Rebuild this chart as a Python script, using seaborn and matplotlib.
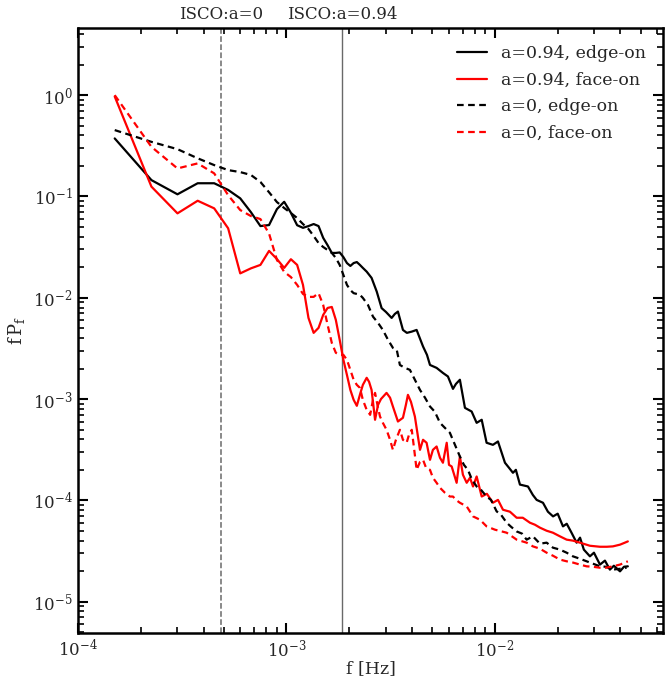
import numpy as np
import pandas as pd
import matplotlib
matplotlib.use("Agg")
import matplotlib.pyplot as plt
import matplotlib.ticker as ticker
import seaborn as sns

# a=0.94, edge-on
f_a94_edge = [1.5e-4, 2.25e-4, 3.0e-4, 3.75e-4, 4.5e-4, 5.25e-4, 6.0e-4, 6.75e-4, 7.5e-4, 8.25e-4,
              9.0e-4, 9.75e-4, 1.05e-3, 1.125e-3, 1.2e-3, 1.275e-3, 1.35e-3, 1.425e-3, 1.5e-3, 1.575e-3,
              1.65e-3, 1.725e-3, 1.8e-3, 1.875e-3, 1.95e-3, 2.025e-3, 2.1e-3, 2.175e-3, 2.25e-3, 2.325e-3,
              2.425e-3, 2.56e-3, 2.71e-3, 2.86e-3, 3.0e-3, 3.195e-3, 3.31e-3, 3.425e-3, 3.62e-3, 3.78e-3,
              3.99e-3, 4.21e-3, 4.52e-3, 4.72e-3, 4.88e-3, 5.25e-3, 5.63e-3, 5.95e-3, 6.29e-3, 6.5e-3,
              6.79e-3, 7.18e-3, 7.73e-3, 8.17e-3, 8.64e-3, 9.12e-3, 9.78e-3, 1.034e-2, 1.117e-2, 1.167e-2,
              1.22e-2, 1.26e-2, 1.318e-2, 1.44e-2, 1.52e-2, 1.585e-2, 1.70e-2, 1.795e-2, 1.90e-2, 2.0e-2,
              2.12e-2, 2.21e-2, 2.33e-2, 2.465e-2, 2.56e-2, 2.67e-2, 2.855e-2, 2.985e-2, 3.19e-2, 3.37e-2,
              3.56e-2, 3.72e-2, 3.98e-2, 4.16e-2, 4.34e-2]
p_a94_edge = [0.374, 0.145, 0.105, 0.135, 0.135, 0.116, 0.0958, 0.070, 0.051, 0.0522,
              0.075, 0.0886, 0.069, 0.052, 0.049, 0.051, 0.0534, 0.051, 0.039, 0.033,
              0.0277, 0.0277, 0.028, 0.0252, 0.022, 0.0206, 0.022, 0.0225, 0.0211, 0.0197,
              0.0181, 0.0157, 0.0115, 0.0079, 0.00724, 0.00632, 0.00692, 0.0073, 0.00481, 0.0045,
              0.00463, 0.00481, 0.0033, 0.00273, 0.00217, 0.00203, 0.00181, 0.00167, 0.00126, 0.00141,
              0.00155, 8.18e-4, 7.53e-4, 5.82e-4, 6.24e-4, 3.70e-4, 3.53e-4, 3.81e-4, 2.35e-4, 2.10e-4,
              1.87e-4, 2.0e-4, 1.43e-4, 1.37e-4, 1.13e-4, 1.01e-4, 9.46e-5, 7.72e-5, 6.94e-5, 7.38e-5,
              5.53e-5, 5.87e-5, 4.79e-5, 3.82e-5, 4.28e-5, 3.26e-5, 2.80e-5, 3.04e-5, 2.32e-5, 2.54e-5,
              2.07e-5, 2.26e-5, 1.99e-5, 2.21e-5, 2.23e-5]

# a=0.94, face-on
f_a94_face = [1.5e-4, 2.25e-4, 3.0e-4, 3.75e-4, 4.5e-4, 5.25e-4, 6.0e-4, 6.75e-4, 7.5e-4, 8.25e-4,
              9.0e-4, 9.75e-4, 1.05e-3, 1.125e-3, 1.2e-3, 1.275e-3, 1.35e-3, 1.425e-3, 1.5e-3, 1.575e-3,
              1.65e-3, 1.725e-3, 1.8e-3, 1.875e-3, 1.95e-3, 2.025e-3, 2.1e-3, 2.175e-3, 2.25e-3, 2.325e-3,
              2.425e-3, 2.49e-3, 2.56e-3, 2.66e-3, 2.75e-3, 2.84e-3, 3.02e-3, 3.14e-3, 3.24e-3, 3.425e-3,
              3.62e-3, 3.74e-3, 3.825e-3, 3.955e-3, 4.13e-3, 4.37e-3, 4.52e-3, 4.70e-3, 4.88e-3, 5.04e-3,
              5.25e-3, 5.45e-3, 5.63e-3, 5.87e-3, 6.02e-3, 6.20e-3, 6.55e-3, 6.79e-3, 7.02e-3, 7.32e-3,
              7.59e-3, 7.85e-3, 8.17e-3, 8.64e-3, 9.15e-3, 9.78e-3, 1.034e-2, 1.093e-2, 1.18e-2, 1.271e-2,
              1.36e-2, 1.472e-2, 1.556e-2, 1.644e-2, 1.77e-2, 1.897e-2, 2.05e-2, 2.208e-2, 2.366e-2, 2.557e-2,
              2.855e-2, 3.19e-2, 3.44e-2, 3.68e-2, 3.98e-2, 4.20e-2, 4.34e-2]
p_a94_face = [0.97, 0.125, 0.0681, 0.0907, 0.0763, 0.0485, 0.0174, 0.0195, 0.0211, 0.029,
              0.0241, 0.0197, 0.0240, 0.0211, 0.0134, 6.32e-3, 4.5e-3, 5.04e-3, 6.77e-3, 7.93e-3,
              8.11e-3, 6.04e-3, 3.84e-3, 2.44e-3, 1.73e-3, 1.23e-3, 9.82e-4, 8.57e-4, 1.10e-3, 1.38e-3,
              1.62e-3, 1.48e-3, 1.23e-3, 6.24e-4, 8.77e-4, 1.0e-3, 1.15e-3, 1.03e-3, 8.44e-4, 6.0e-4,
              6.53e-4, 8.77e-4, 1.10e-3, 9.38e-4, 6.72e-4, 3.15e-4, 3.96e-4, 3.70e-4, 2.51e-4, 3.15e-4,
              3.40e-4, 2.63e-4, 2.35e-4, 3.70e-4, 2.24e-4, 2.16e-4, 1.49e-4, 2.71e-4, 1.79e-4, 1.49e-4,
              1.67e-4, 1.37e-4, 1.72e-4, 1.09e-4, 1.16e-4, 9.46e-5, 1.01e-4, 8.07e-5, 7.72e-5, 6.73e-5,
              6.73e-5, 6.01e-5, 5.74e-5, 5.37e-5, 5.01e-5, 4.79e-5, 4.41e-5, 4.09e-5, 4.0e-5, 3.82e-5,
              3.56e-5, 3.48e-5, 3.48e-5, 3.51e-5, 3.65e-5, 3.82e-5, 3.93e-5]

# a=0, edge-on
f_a0_edge = [1.5e-4, 2.25e-4, 3.0e-4, 3.75e-4, 4.5e-4, 5.25e-4, 6.0e-4, 6.75e-4, 7.5e-4, 8.25e-4,
             9.0e-4, 9.75e-4, 1.05e-3, 1.125e-3, 1.2e-3, 1.275e-3, 1.35e-3, 1.425e-3, 1.5e-3, 1.575e-3,
             1.65e-3, 1.725e-3, 1.8e-3, 1.875e-3, 1.95e-3, 2.025e-3, 2.1e-3, 2.175e-3, 2.25e-3, 2.325e-3,
             2.46e-3, 2.60e-3, 2.75e-3, 2.90e-3, 3.07e-3, 3.24e-3, 3.38e-3, 3.50e-3, 3.70e-3, 3.91e-3,
             4.13e-3, 4.37e-3, 4.62e-3, 4.88e-3, 5.15e-3, 5.45e-3, 5.75e-3, 6.08e-3, 6.43e-3, 6.79e-3,
             7.10e-3, 7.42e-3, 7.76e-3, 8.17e-3, 8.57e-3, 9.12e-3, 9.57e-3, 1.019e-2, 1.069e-2, 1.138e-2,
             1.194e-2, 1.271e-2, 1.349e-2, 1.419e-2, 1.521e-2, 1.644e-2, 1.77e-2, 1.897e-2, 2.05e-2, 2.208e-2,
             2.366e-2, 2.557e-2, 2.754e-2, 2.95e-2, 3.19e-2, 3.40e-2, 3.68e-2, 3.98e-2, 4.28e-2]
p_a0_edge = [0.452, 0.346, 0.293, 0.238, 0.204, 0.182, 0.174, 0.163, 0.139, 0.110,
             0.088, 0.0769, 0.0686, 0.0612, 0.0534, 0.0477, 0.0407, 0.0347, 0.0317, 0.0296,
             0.0277, 0.0247, 0.0211, 0.0168, 0.0134, 0.0119, 0.0111, 0.0109, 0.0107, 0.00996,
             8.49e-3, 6.51e-3, 5.64e-3, 4.81e-3, 3.84e-3, 3.20e-3, 3.06e-3, 2.17e-3, 2.03e-3, 1.94e-3,
             1.55e-3, 1.23e-3, 1.03e-3, 8.44e-4, 7.48e-4, 5.82e-4, 5.20e-4, 4.64e-4, 3.53e-4, 2.71e-4,
             2.24e-4, 2.0e-4, 1.60e-4, 1.37e-4, 1.27e-4, 1.09e-4, 1.01e-4, 7.78e-5, 7.21e-5, 6.01e-5,
             5.49e-5, 4.93e-5, 4.69e-5, 4.09e-5, 4.41e-5, 3.73e-5, 3.82e-5, 3.41e-5, 3.26e-5, 3.04e-5,
             2.80e-5, 2.65e-5, 2.50e-5, 2.37e-5, 2.23e-5, 2.21e-5, 2.07e-5, 2.11e-5, 2.16e-5]

# a=0, face-on
f_a0_face = [1.5e-4, 2.25e-4, 3.0e-4, 3.75e-4, 4.5e-4, 5.25e-4, 6.0e-4, 6.75e-4, 7.5e-4, 8.25e-4,
             9.0e-4, 9.75e-4, 1.05e-3, 1.125e-3, 1.2e-3, 1.275e-3, 1.35e-3, 1.425e-3, 1.5e-3, 1.575e-3,
             1.65e-3, 1.725e-3, 1.8e-3, 1.875e-3, 1.95e-3, 2.025e-3, 2.1e-3, 2.175e-3, 2.25e-3, 2.325e-3,
             2.425e-3, 2.52e-3, 2.60e-3, 2.66e-3, 2.75e-3, 2.81e-3, 2.90e-3, 3.02e-3, 3.14e-3, 3.24e-3,
             3.35e-3, 3.50e-3, 3.62e-3, 3.77e-3, 3.87e-3, 3.99e-3, 4.09e-3, 4.21e-3, 4.37e-3, 4.52e-3,
             4.67e-3, 4.88e-3, 5.04e-3, 5.25e-3, 5.45e-3, 5.75e-3, 6.08e-3, 6.29e-3, 6.5e-3, 6.79e-3,
             7.32e-3, 7.85e-3, 8.47e-3, 9.12e-3, 1.0e-2, 1.138e-2, 1.271e-2, 1.419e-2, 1.521e-2, 1.644e-2,
             1.77e-2, 1.897e-2, 2.05e-2, 2.208e-2, 2.366e-2, 2.557e-2, 2.754e-2, 2.95e-2, 3.19e-2, 3.40e-2,
             3.68e-2, 3.98e-2, 4.34e-2]
p_a0_face = [1.0, 0.309, 0.189, 0.212, 0.169, 0.103, 0.0734, 0.0641, 0.0598, 0.043,
             0.0236, 0.0180, 0.0160, 0.0134, 0.0109, 0.0102, 0.0102, 0.0111, 8.49e-3, 5.40e-3,
             3.58e-3, 2.86e-3, 2.73e-3, 2.73e-3, 2.44e-3, 1.94e-3, 1.55e-3, 1.38e-3, 1.29e-3, 9.82e-4,
             7.82e-4, 6.98e-4, 9.82e-4, 1.15e-3, 8.18e-4, 6.72e-4, 5.82e-4, 4.97e-4, 3.96e-4, 3.15e-4,
             3.96e-4, 4.97e-4, 3.96e-4, 3.70e-4, 4.44e-4, 4.97e-4, 3.30e-4, 2.0e-4, 2.40e-4, 2.51e-4,
             2.10e-4, 2.0e-4, 1.67e-4, 1.49e-4, 1.33e-4, 1.19e-4, 1.09e-4, 1.09e-4, 1.01e-4, 9.46e-5,
             8.71e-5, 6.94e-5, 6.44e-5, 5.53e-5, 5.13e-5, 4.79e-5, 4.09e-5, 3.82e-5, 3.51e-5, 3.33e-5,
             3.04e-5, 2.84e-5, 2.60e-5, 2.50e-5, 2.43e-5, 2.32e-5, 2.23e-5, 2.21e-5, 2.16e-5, 2.16e-5,
             2.23e-5, 2.32e-5, 2.50e-5]

labels = ["a=0.94, edge-on", "a=0.94, face-on", "a=0, edge-on", "a=0, face-on"]
colors = {labels[0]: "black", labels[1]: "red", labels[2]: "black", labels[3]: "red"}
dashes = {labels[0]: "", labels[1]: "", labels[2]: (3, 2), labels[3]: (3, 2)}

isco_freqs = [4.85e-4, 1.85e-3]
isco_labels = ["ISCO:a=0", "ISCO:a=0.94"]

frames = []
for lab, f, p in zip(labels, [f_a94_edge, f_a94_face, f_a0_edge, f_a0_face],
                     [p_a94_edge, p_a94_face, p_a0_edge, p_a0_face]):
    frames.append(pd.DataFrame({"f": f, "fP": p, "series": lab}))
df = pd.concat(frames, ignore_index=True)

sns.set_style("ticks")
plt.rcParams["font.family"] = ["DejaVu Serif"]
plt.rcParams["mathtext.fontset"] = "dejavuserif"

fig = plt.figure(figsize=(6.65, 6.77), dpi=100)
ax = fig.add_axes([0.1173, 0.065, 0.8797, 0.8936])

sns.lineplot(data=df, x="f", y="fP", hue="series", style="series",
             hue_order=labels, style_order=labels, palette=colors, dashes=dashes,
             estimator=None, sort=False, linewidth=1.6, ax=ax)

ax.set_xscale("log")
ax.set_yscale("log")
ax.set_xlim(1e-4, 0.064)
ax.set_ylim(4.9e-6, 4.6)

ax.axvline(isco_freqs[0], color="dimgray", linestyle="--", linewidth=1.1, zorder=0)
ax.axvline(isco_freqs[1], color="dimgray", linestyle="-", linewidth=1.0, zorder=0)
for fx, lab in zip(isco_freqs, isco_labels):
    ax.text(fx, 1.008, lab, transform=ax.get_xaxis_transform(), ha="center", va="bottom", fontsize=12)

ax.set_xlabel("f [Hz]", fontsize=12.5, labelpad=0)
ax.set_ylabel(r"$\mathrm{f\,P_f}$", fontsize=13)

ax.tick_params(which="both", direction="in", top=True, right=True, labelsize=12, color="black")
ax.tick_params(which="major", length=7, width=1.5, pad=4)
ax.tick_params(which="minor", length=4, width=1.2)
ax.yaxis.set_minor_locator(ticker.LogLocator(base=10, subs=np.arange(2, 10), numticks=20))
ax.xaxis.set_minor_locator(ticker.LogLocator(base=10, subs=np.arange(2, 10), numticks=20))
for s in ax.spines.values():
    s.set_linewidth(1.8)
    s.set_color("black")

ax.legend(loc="upper right", frameon=False, fontsize=12.5, handlelength=1.7,
          labelspacing=0.55, borderaxespad=0.6)

fig.savefig("out.png", dpi=100)
